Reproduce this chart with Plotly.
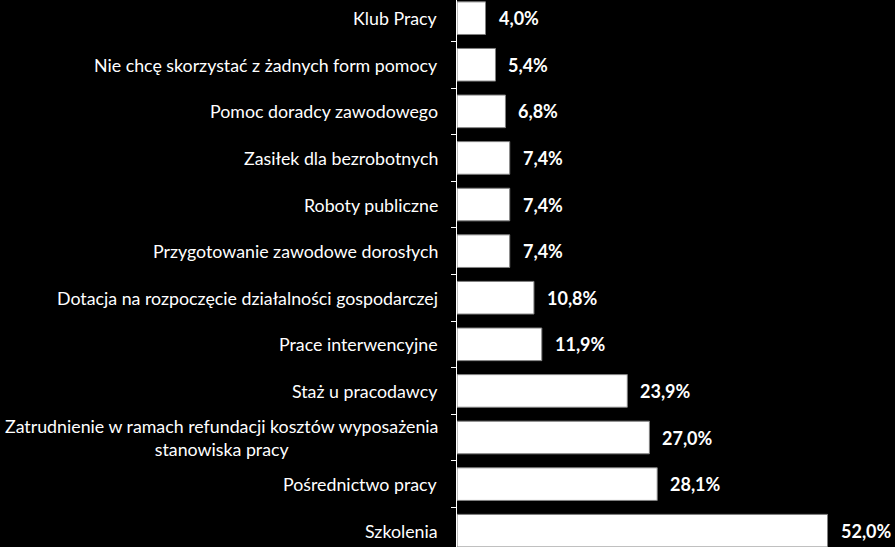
import plotly.graph_objects as go

categories = [
    "Klub Pracy",
    "Nie chcę skorzystać z żadnych form pomocy",
    "Pomoc doradcy zawodowego",
    "Zasiłek dla bezrobotnych",
    "Roboty publiczne",
    "Przygotowanie zawodowe dorosłych",
    "Dotacja na rozpoczęcie działalności gospodarczej",
    "Prace interwencyjne",
    "Staż u pracodawcy",
    "Zatrudnienie w ramach refundacji kosztów wyposażenia<br>stanowiska pracy",
    "Pośrednictwo pracy",
    "Szkolenia",
]
values = [4.0, 5.4, 6.8, 7.4, 7.4, 7.4, 10.8, 11.9, 23.9, 27.0, 28.1, 52.0]
value_labels = [f"{v:.1f}%".replace(".", ",") for v in values]

idx = list(range(len(categories)))

fig = go.Figure()
fig.add_trace(go.Bar(
    x=values,
    y=idx,
    orientation="h",
    marker=dict(color="white", line=dict(color="#808080", width=1)),
    width=0.70,
    hoverinfo="skip",
))

annotations = []
for i, (c, v, t) in enumerate(zip(categories, values, value_labels)):
    annotations.append(dict(
        x=0, xref="paper", y=i, yref="y",
        text=c, showarrow=False, xanchor="right", yanchor="middle",
        align="center", xshift=-17,
        font=dict(family="Lato", size=17.8, color="white"),
    ))
    annotations.append(dict(
        x=v, xref="x", y=i, yref="y",
        text=t, showarrow=False, xanchor="left", yanchor="middle",
        xshift=11,
        font=dict(family="Lato", size=18, color="white", weight="bold"),
    ))

fig.update_layout(
    width=895, height=547,
    paper_bgcolor="black", plot_bgcolor="black",
    margin=dict(l=457, r=0, t=0, b=0),
    showlegend=False,
    annotations=annotations,
    xaxis=dict(range=[0, 61.47], showgrid=False, zeroline=False,
               showticklabels=False, ticks="", showline=False),
    yaxis=dict(range=[11.35, -0.39], showgrid=False, zeroline=False,
               showticklabels=False, showline=True, linecolor="white",
               linewidth=1, ticks="outside", ticklen=5, tickcolor="white",
               tickwidth=1, tickmode="array",
               tickvals=[i + 0.5 for i in range(len(categories) - 1)]),
)

fig.write_html(
    "out.html",
    config={"displayModeBar": False},
    post_script="document.body.style.margin='0';document.body.style.overflow='hidden';document.body.style.background='black';",
)
